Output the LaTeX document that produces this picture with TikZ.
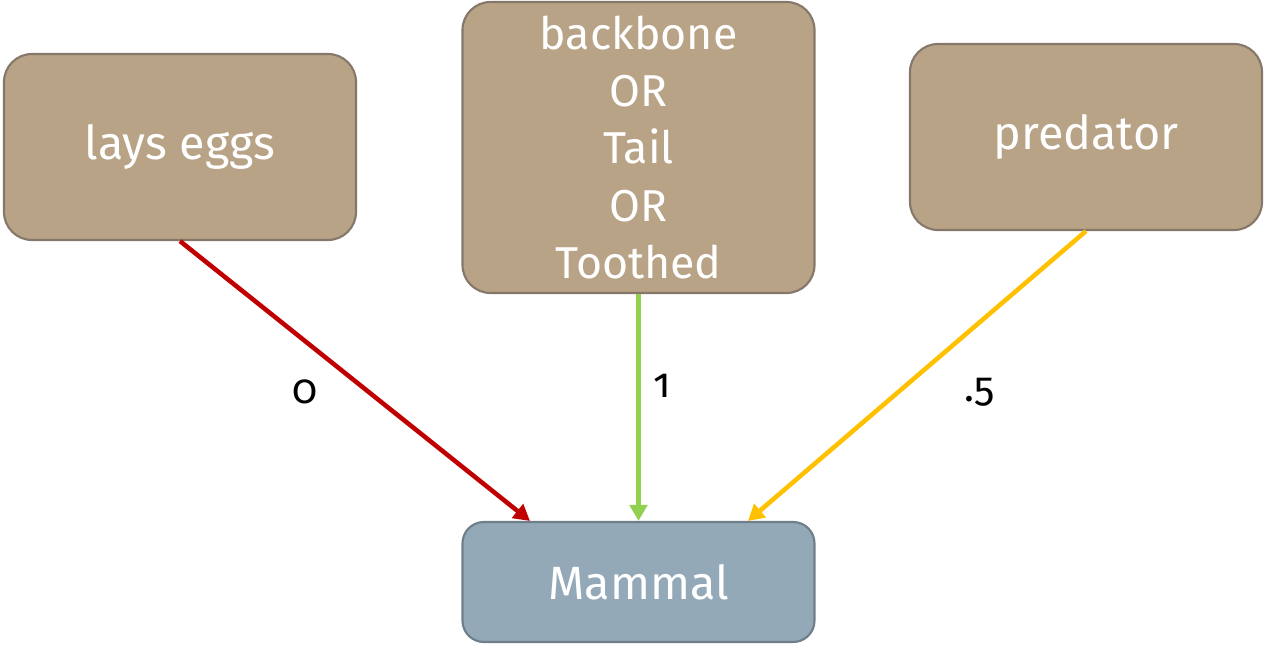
\documentclass[tikz,border=0pt]{standalone}
\usepackage{fontspec}
\setmainfont[Numbers=OldStyle]{Fira Sans}
\usetikzlibrary{arrows.meta,calc}
\definecolor{boxbrown}{HTML}{B9A387}
\definecolor{boxbrownline}{HTML}{85786A}
\definecolor{boxblue}{HTML}{93A9B8}
\definecolor{boxblueline}{HTML}{6E7E8A}
\definecolor{arrred}{HTML}{C00000}
\definecolor{arrgreen}{HTML}{92D050}
\definecolor{arrorange}{HTML}{FFC000}
\tikzset{
  cause/.style={draw=boxbrownline, fill=boxbrown, line width=1.6pt, rounded corners=21pt,
    text=white, align=center, inner sep=0pt, minimum width=264pt, font=\fontsize{35}{42}\selectfont},
  target/.style={draw=boxblueline, fill=boxblue, line width=1.6pt, rounded corners=16pt,
    text=white, align=center, inner sep=0pt, minimum width=264pt, minimum height=90pt,
    font=\fontsize{35}{42}\selectfont},
  link/.style={line width=3.4pt, -{Triangle[length=12pt,width=13pt]}},
  weight/.style={font=\fontsize{31}{36}\selectfont, text=black, anchor=base, inner sep=0pt}
}
\begin{document}
\begin{tikzpicture}[x=0.75pt,y=-0.75pt]
\useasboundingbox (0,0) rectangle (1264,646);
\node[cause, minimum height=139.5pt] (eggs) at (180,147) {lays eggs};
\node[cause, minimum height=218.25pt, font=\fontsize{33.5}{43}\selectfont] (back) at (638.5,147.5)
  {backbone\\OR\\Tail\\OR\\Toothed};
\node[cause, minimum height=139.5pt] (pred) at (1086,137) {predator};
\node[target] (mammal) at (638.5,582) {Mammal};
\draw[link, arrred] (eggs.south) -- ([xshift=-81.4pt]mammal.north);
\draw[link, arrgreen] (back.south) -- (mammal.north);
\draw[link, arrorange] (pred.south) -- ([xshift=82.1pt]mammal.north);
\node[weight] (w0) at (305,403) {0};
\node[weight] (w1) at (662,397) {1};
\node[weight] (w5) at (980,401) {.5};
\end{tikzpicture}
\end{document}
